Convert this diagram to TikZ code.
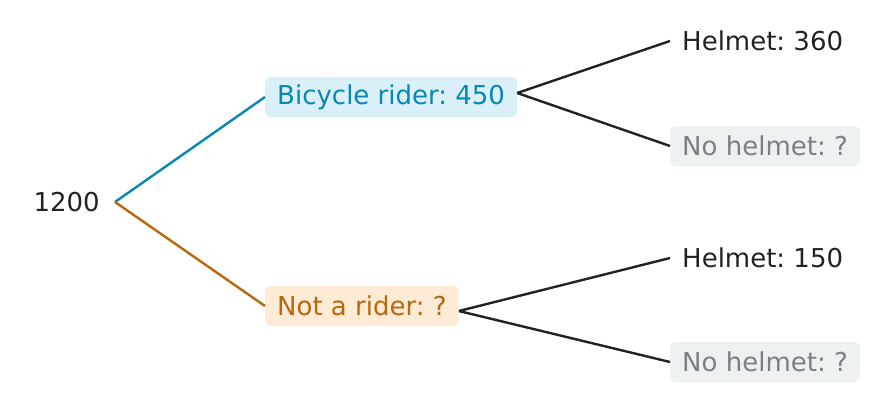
\documentclass[tikz,border=0pt]{standalone}
\usepackage{fontspec}
\setmainfont{DejaVu Sans}
\frenchspacing
\definecolor{bl}{HTML}{0A86B4}
\definecolor{blf}{HTML}{D9F0F8}
\definecolor{orf}{HTML}{FDEBD6}
\definecolor{or}{HTML}{B8680A}
\definecolor{gyf}{HTML}{EDF1F2}
\definecolor{gy}{HTML}{7A8088}
\definecolor{dk}{HTML}{222222}
\begin{document}
\begin{tikzpicture}[x=1pt,y=-1pt,
  every node/.style={font=\fontsize{26}{30}\selectfont, inner xsep=12pt, minimum height=40pt, anchor=west, rounded corners=5pt, text=dk},
  ln/.style={line width=2.4pt}]
\useasboundingbox (0,0) rectangle (880,405);
\node[anchor=east, inner xsep=0pt] (r) at (100,202) {1200};
\coordinate (rs) at (115,202);
\node[fill=blf,text=bl] (b) at (265,97) {Bicycle rider: 450};
\node[fill=orf,text=or] (n) at (265,306) {Not a rider: ?};
\node (h1) at (670,41) {Helmet: 360};
\node[fill=gyf,text=gy] (nh1) at (670,146) {No helmet: ?};
\node (h2) at (670,258) {Helmet: 150};
\node[fill=gyf,text=gy] (nh2) at (670,362) {No helmet: ?};
\draw[ln,bl] (rs) -- (b.west);
\draw[ln,or] (rs) -- (n.west);
\draw[ln,dk] ([yshift=4pt]b.east) -- (h1.west);
\draw[ln,dk] ([yshift=4pt]b.east) -- (nh1.west);
\draw[ln,dk] ([yshift=-5pt]n.east) -- (h2.west);
\draw[ln,dk] ([yshift=-5pt]n.east) -- (nh2.west);
\end{tikzpicture}
\end{document}
